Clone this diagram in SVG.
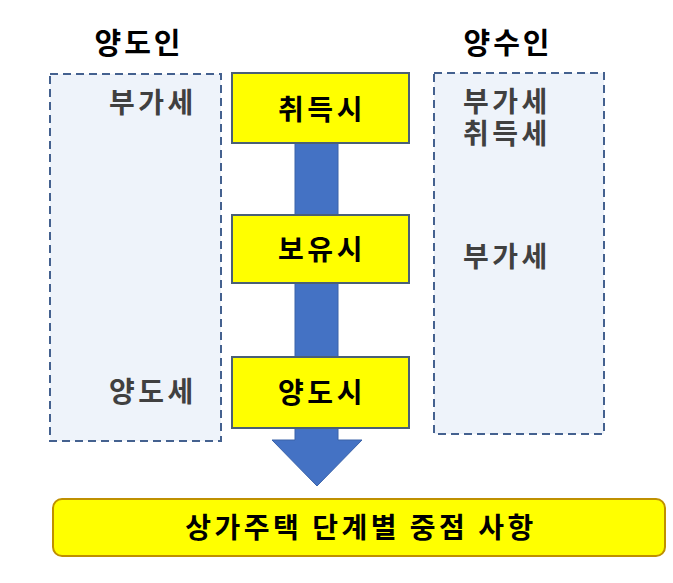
<svg xmlns="http://www.w3.org/2000/svg" width="673" height="583" viewBox="0 0 673 583">
<style>
text{font-family:"Noto Sans CJK KR","Noto Sans",sans-serif;font-weight:bold}
.hdr{font-size:29px;fill:#000;text-anchor:middle;letter-spacing:3px}
.tax{font-size:28px;fill:#404040;letter-spacing:3.5px}
.stage{font-size:28px;fill:#000;text-anchor:middle;letter-spacing:3.5px}
.sum{font-size:28px;fill:#000;text-anchor:middle;letter-spacing:3.5px}
.panel{fill:#EEF3FA;stroke:#44618F;stroke-width:2;stroke-dasharray:8 5}
.ybox{fill:#FFFF00;stroke:#4A6076;stroke-width:2}
.arrow{fill:#4472C4;stroke:#3A62A8;stroke-width:1}
</style>
<rect width="673" height="583" fill="#fff"/>
<g id="seller">
<text class="hdr" x="139" y="54">양도인</text>
<rect class="panel" x="50" y="74" width="171" height="367"/>
<text class="tax" x="109" y="113">부가세</text>
<text class="tax" x="109" y="402">양도세</text>
</g>
<g id="buyer">
<text class="hdr" x="508" y="54">양수인</text>
<rect class="panel" x="434" y="73" width="170" height="361"/>
<text class="tax" x="463" y="112">부가세<tspan x="463" dy="32">취득세</tspan></text>
<text class="tax" x="463" y="267">부가세</text>
</g>
<g id="connectors">
<path class="arrow" d="M295,143 H338 V440 H362 L317,486 L272,440 H295 Z"/>
</g>
<g id="acquire">
<rect class="ybox" x="232" y="73" width="177" height="70"/>
<text class="stage" x="322" y="120">취득시</text>
</g>
<g id="hold">
<rect class="ybox" x="232" y="215" width="177" height="68"/>
<text class="stage" x="322" y="260">보유시</text>
</g>
<g id="transfer">
<rect class="ybox" x="232" y="357" width="177" height="71"/>
<text class="stage" x="322" y="403">양도시</text>
</g>
<g id="summary">
<rect x="53" y="499" width="612" height="57" rx="9" fill="#FFFF00" stroke="#BF9000" stroke-width="2"/>
<text class="sum" x="361" y="538">상가주택 단계별 중점 사항</text>
</g>
</svg>
